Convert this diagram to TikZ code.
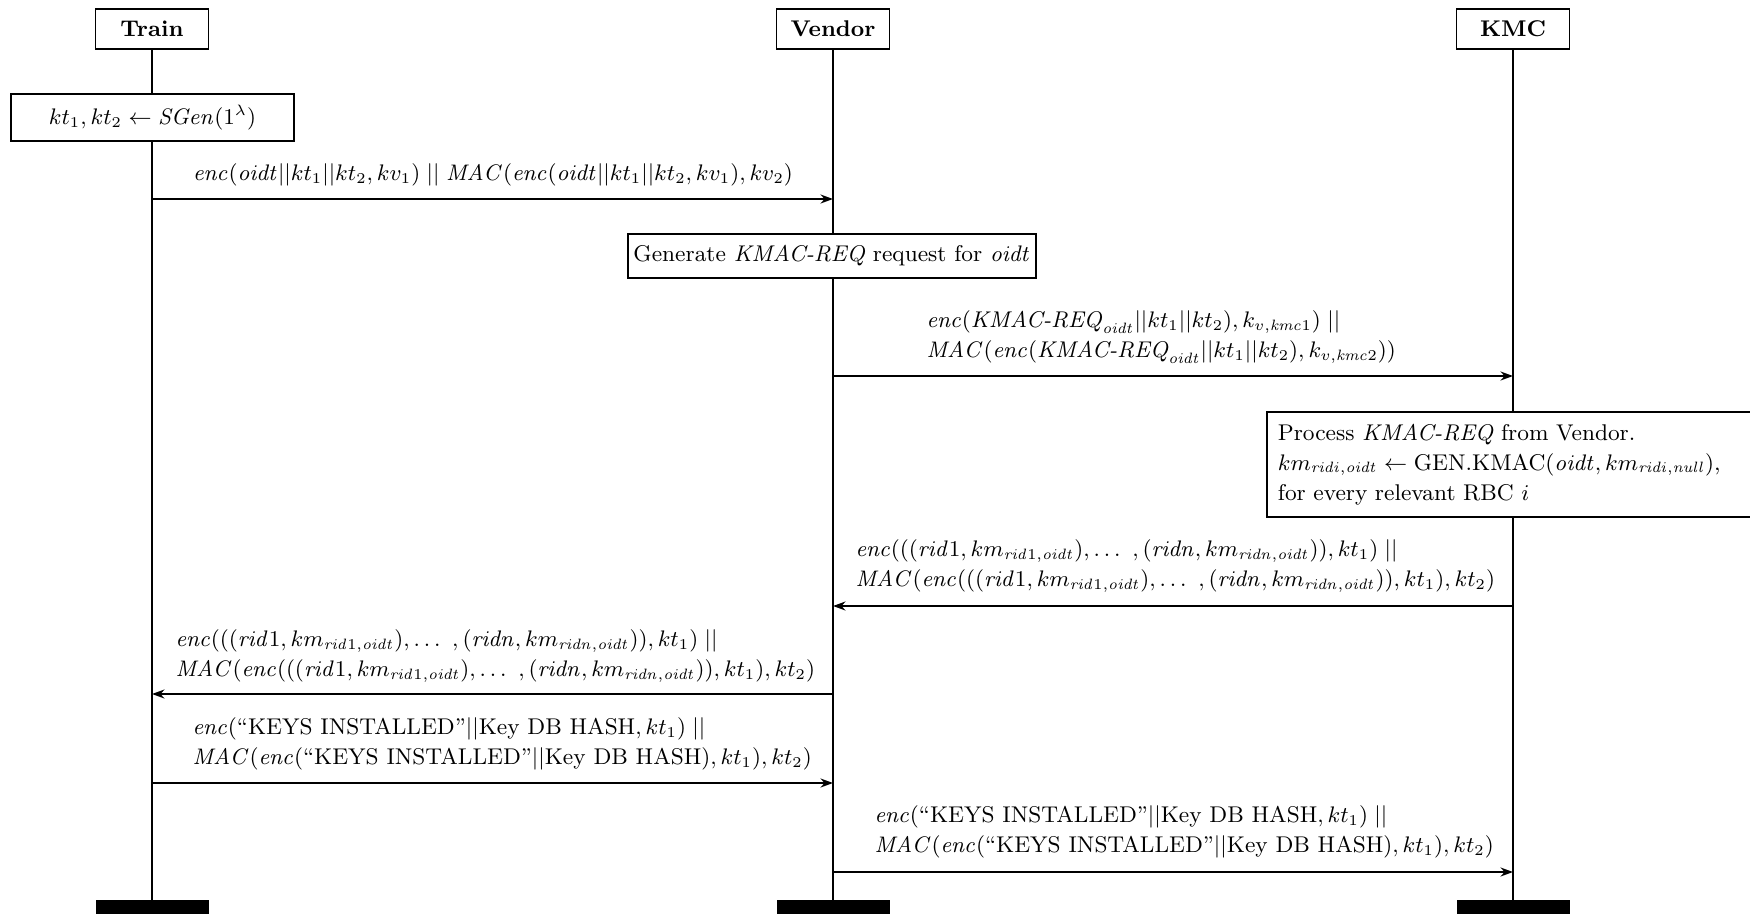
\documentclass[tikz,border=0pt]{standalone}
\usepackage{amsmath}
\usetikzlibrary{arrows.meta}
\newcommand{\kreq}{\textit{KMAC-REQ}}
\newcommand{\ridlist}{((\mathit{rid}1, km_{\mathit{rid}1,\mathit{oidt}}), \ldots\ ,(\mathit{ridn}, km_{\mathit{ridn},\mathit{oidt}}))}
\newcommand{\keysinst}{``KEYS INSTALLED''$||$Key DB HASH}
\newcommand{\figfont}{\fontsize{9.1}{12}\selectfont}
\begin{document}
\begin{tikzpicture}[x=0.4pt,y=-0.4pt,
  hdr/.style={draw, line width=0.7pt, minimum width=45.2pt, minimum height=16pt, inner sep=0pt, font=\figfont\bfseries, fill=white},
  bar/.style={fill=black, minimum width=45.2pt, minimum height=8pt, inner sep=0pt},
  life/.style={line width=0.7pt},
  msg/.style={line width=0.7pt, -{Stealth[length=5pt,width=3.6pt]}},
  actbox/.style={draw, line width=0.7pt, fill=white, inner sep=0pt, font=\figfont},
  lbl/.style={anchor=west, align=left, inner sep=0pt, font=\figfont}
]
\useasboundingbox (0,0) rectangle (1750,913);
% headers
\node[hdr] (train) at (152,29) {Train};
\node[hdr] (vendor) at (833,29) {Vendor};
\node[hdr] (kmc) at (1513,29) {KMC};
% end bars
\node[bar] (trainE) at (152,910) {};
\node[bar] (vendorE) at (833,910) {};
\node[bar] (kmcE) at (1513,910) {};
% lifelines
\draw[life] (train.south) -- (trainE.north);
\draw[life] (vendor.south) -- (vendorE.north);
\draw[life] (kmc.south) -- (kmcE.north);
% action boxes
\node[actbox, minimum width=113.2pt, minimum height=18.8pt] (sgen) at (152.5,117.5) {$kt_1, kt_2 \leftarrow \mathit{SGen}(1^\lambda)$};
\node[actbox, minimum width=163.2pt, minimum height=17.6pt] (gen) at (832,256) {Generate \kreq{} request for $\mathit{oidt}$};
\node[actbox, anchor=north west, text width=200pt, inner xsep=4.4pt, minimum height=42pt, align=left] (proc) at (1266,411) {Process \kreq{} from Vendor.\\ $km_{\mathit{ridi},\mathit{oidt}} \leftarrow \text{GEN.KMAC}(\mathit{oidt}, km_{\mathit{ridi},\mathit{null}})$,\\ for every relevant RBC $i$};
% messages
\draw[msg] (train.south |- 0,199) -- (vendor.south |- 0,199);
\node[lbl, anchor=center] (m1) at (493,175) {$\mathit{enc}(\mathit{oidt}||kt_1||kt_2, kv_1) \;||\; \mathit{MAC}(\mathit{enc}(\mathit{oidt}||kt_1||kt_2, kv_1), kv_2)$};

\draw[msg] (vendor.south |- 0,376) -- (kmc.south |- 0,376);
\node[lbl] (m2) at (926,337) {$\mathit{enc}(\text{\kreq}_{\mathit{oidt}}||kt_1||kt_2), k_{v,\mathit{kmc}1}) \;||$\\ $\mathit{MAC}(\mathit{enc}(\text{\kreq}_{\mathit{oidt}}||kt_1||kt_2), k_{v,\mathit{kmc}2}))$};

\draw[msg] (kmc.south |- 0,606) -- (vendor.south |- 0,606);
\node[lbl] (m3) at (855,566) {$\mathit{enc}(\ridlist, kt_1) \;||$\\ $\mathit{MAC}(\mathit{enc}(\ridlist, kt_1), kt_2)$};

\draw[msg] (vendor.south |- 0,694) -- (train.south |- 0,694);
\node[lbl] (m4) at (175,656) {$\mathit{enc}(\ridlist, kt_1) \;||$\\ $\mathit{MAC}(\mathit{enc}(\ridlist, kt_1), kt_2)$};

\draw[msg] (train.south |- 0,783) -- (vendor.south |- 0,783);
\node[lbl] (m5) at (192,744) {$\mathit{enc}($\keysinst$, kt_1) \;||$\\ $\mathit{MAC}(\mathit{enc}($\keysinst$), kt_1), kt_2)$};

\draw[msg] (vendor.south |- 0,872) -- (kmc.south |- 0,872);
\node[lbl] (m6) at (874,832) {$\mathit{enc}($\keysinst$, kt_1) \;||$\\ $\mathit{MAC}(\mathit{enc}($\keysinst$), kt_1), kt_2)$};
\end{tikzpicture}
\end{document}
